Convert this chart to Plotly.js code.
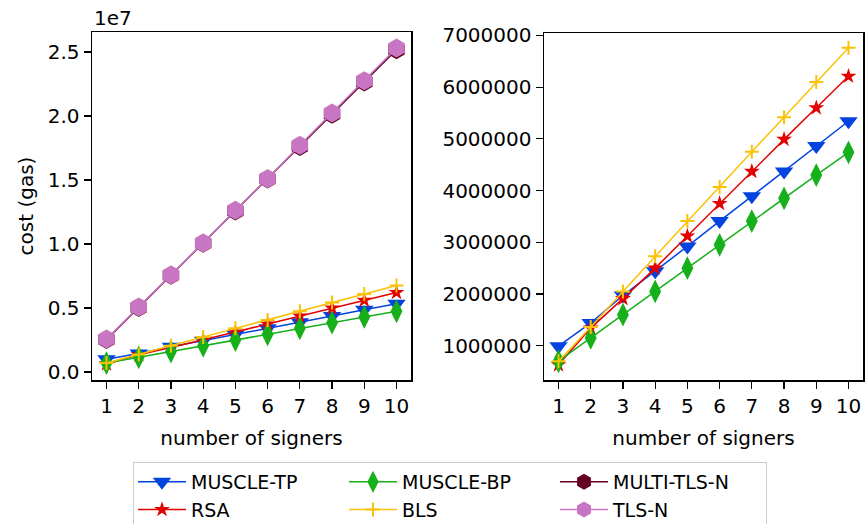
<!DOCTYPE html>
<html>
<head>
<meta charset="utf-8">
<script src="https://cdn.plot.ly/plotly-3.0.1.min.js"></script>
<style>html,body{margin:0;padding:0;background:#fff;}#chart{width:865px;height:524px;}</style>
</head>
<body>
<div id="chart"></div>
<script>
const signers = [1, 2, 3, 4, 5, 6, 7, 8, 9, 10];
const muscleTP = [990000, 1440000, 1970000, 2440000, 2920000, 3410000, 3890000, 4370000, 4860000, 5340000];
const rsa = [630000, 1340000, 1910000, 2500000, 3120000, 3750000, 4370000, 4990000, 5600000, 6210000];
const muscleBP = [700000, 1150000, 1600000, 2050000, 2500000, 2950000, 3410000, 3850000, 4300000, 4740000];
const bls = [700000, 1360000, 2050000, 2730000, 3410000, 4070000, 4750000, 5420000, 6100000, 6760000];
const multiTlsN = [2530000, 5040000, 7550000, 10050000, 12580000, 15070000, 17620000, 20130000, 22660000, 25180000];
const tlsN = [2580000, 5080000, 7580000, 10080000, 12630000, 15100000, 17710000, 20230000, 22760000, 25310000];
const leftYTicks = [0, 5000000, 10000000, 15000000, 20000000, 25000000];
const leftYTickText = ['0.0', '0.5', '1.0', '1.5', '2.0', '2.5'];
const rightYTicks = [1000000, 2000000, 3000000, 4000000, 5000000, 6000000, 7000000];
const rightYTickText = ['1000000', '2000000', '3000000', '4000000', '5000000', '6000000', '7000000'];

const FONT = 'DejaVu Sans, sans-serif';
const FS = 20;

const styles = {
  'MUSCLE-TP': {color: '#0343df', symbol: 'triangle-down', size: 16, group: 'g1'},
  'RSA': {color: '#e50000', symbol: 'star', size: 12, group: 'g1'},
  'MUSCLE-BP': {color: '#15b01a', symbol: 'diamond-tall', size: 17, group: 'g2'},
  'BLS': {color: '#fac205', symbol: 'cross-thin', size: 10, group: 'g2'},
  'MULTI-TLS-N': {color: '#650021', symbol: 'hexagon', size: 19, group: 'g3'},
  'TLS-N': {color: '#c875c4', symbol: 'hexagon', size: 19, group: 'g3'}
};

function tr(name, y, xa, ya, legend) {
  const s = styles[name];
  const m = {color: s.color, symbol: s.symbol, size: s.size};
  if (s.symbol === 'cross-thin') m.line = {color: s.color, width: 2};
  return {
    x: signers, y: y, xaxis: xa, yaxis: ya, name: name, type: 'scatter', mode: 'lines+markers',
    line: {color: s.color, width: 1.5}, marker: m, showlegend: legend,
    legendgroup: legend ? s.group : undefined
  };
}

const data = [
  tr('MUSCLE-TP', muscleTP, 'x', 'y', true),
  tr('RSA', rsa, 'x', 'y', true),
  tr('MUSCLE-BP', muscleBP, 'x', 'y', true),
  tr('BLS', bls, 'x', 'y', true),
  tr('MULTI-TLS-N', multiTlsN, 'x', 'y', true),
  tr('TLS-N', tlsN, 'x', 'y', true),
  tr('MUSCLE-TP', muscleTP, 'x2', 'y2', false),
  tr('RSA', rsa, 'x2', 'y2', false),
  tr('MUSCLE-BP', muscleBP, 'x2', 'y2', false),
  tr('BLS', bls, 'x2', 'y2', false)
];

const axisCommon = {
  showgrid: false, zeroline: false, showline: true, mirror: true, linecolor: '#000', linewidth: 1.5,
  ticks: 'outside', ticklen: 7, tickwidth: 1.2, tickcolor: '#000',
  tickfont: {family: FONT, size: FS, color: '#000'}, automargin: false
};

const W = 865, H = 524;
const layout = {
  width: W, height: H,
  margin: {l: 0, r: 0, t: 0, b: 0, autoexpand: false},
  paper_bgcolor: '#fff', plot_bgcolor: '#fff',
  font: {family: FONT, size: FS, color: '#000'},
  xaxis: Object.assign({}, axisCommon, {
    domain: [92 / W, 411 / W], range: [0.55, 10.45], tickvals: signers, anchor: 'y',
    title: {text: 'number of signers', font: {family: FONT, size: FS}, standoff: 14}
  }),
  yaxis: Object.assign({}, axisCommon, {
    domain: [1 - 380 / H, 1 - 32 / H], range: [-625000, 26560000], anchor: 'x',
    tickvals: leftYTicks, ticktext: leftYTickText,
    title: {text: 'cost (gas)', font: {family: FONT, size: FS}, standoff: 8}
  }),
  xaxis2: Object.assign({}, axisCommon, {
    domain: [544 / W, 863 / W], range: [0.55, 10.45], tickvals: signers, anchor: 'y2',
    title: {text: 'number of signers', font: {family: FONT, size: FS}, standoff: 14}
  }),
  yaxis2: Object.assign({}, axisCommon, {
    domain: [1 - 380 / H, 1 - 33 / H], range: [337000, 7047000], anchor: 'x2',
    tickvals: rightYTicks, ticktext: rightYTickText
  }),
  annotations: [{
    text: '1e7', xref: 'paper', yref: 'paper', x: 92 / W, y: 1 - 4 / H, xanchor: 'left', yanchor: 'top',
    showarrow: false, font: {family: FONT, size: FS, color: '#000'}
  }],
  legend: {
    orientation: 'h', x: 133 / W, y: 1 - 462 / H, xanchor: 'left', yanchor: 'top',
    entrywidth: 148, entrywidthmode: 'pixels', itemwidth: 48, bordercolor: '#cccccc', borderwidth: 1,
    bgcolor: '#fff', font: {family: FONT, size: 19, color: '#000'}, tracegroupgap: 0,
    traceorder: 'grouped'
  }
};

Plotly.newPlot('chart', data, layout, {staticPlot: true, displayModeBar: false});
</script>
</body>
</html>
